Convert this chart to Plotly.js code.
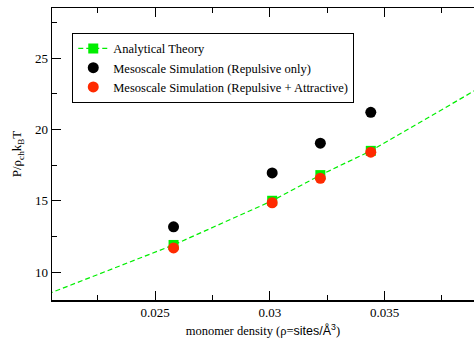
<!DOCTYPE html>
<html>
<head>
<meta charset="utf-8">
<script src="https://cdn.plot.ly/plotly-3.0.1.min.js"></script>
<style>html,body{margin:0;padding:0;background:#fff;}#chart{width:474px;height:341px;}</style>
</head>
<body>
<div id="chart"></div>
<script>
// Analytical theory curve (dashed line); end points lie just outside the axes range
const theoryX = [0.0200, 0.0258, 0.0301, 0.0322, 0.0344, 0.0395];
const theoryY = [8.26, 11.9, 15.0, 16.8, 18.5, 23.26];

// Mesoscale simulation densities
const densities = [0.0258, 0.0301, 0.0322, 0.0344];
const repulsiveOnly = [13.17, 16.95, 19.04, 21.2];
const repulsiveAttractive = [11.69, 14.86, 16.58, 18.41];

const labels = ["Analytical Theory",
  "Mesoscale Simulation (Repulsive only)",
  "Mesoscale Simulation (Repulsive + Attractive)"];

const serif = "Liberation Serif";

const traces = [
  {
    x: theoryX, y: theoryY, name: labels[0], type: "scatter", mode: "lines+markers",
    cliponaxis: true,
    line: {color: "#00ee00", width: 1.2, dash: "5px,3px"},
    marker: {symbol: "square", color: "#00ee00", size: 10}
  },
  {
    x: densities, y: repulsiveOnly, name: labels[1], type: "scatter", mode: "markers",
    marker: {symbol: "circle", color: "#000000", size: 11}
  },
  {
    x: densities, y: repulsiveAttractive, name: labels[2], type: "scatter", mode: "markers",
    marker: {symbol: "circle", color: "#ff2a00", size: 11}
  }
];

const layout = {
  width: 474, height: 341,
  margin: {l: 52, r: 0, t: 8, b: 41},
  paper_bgcolor: "#fff", plot_bgcolor: "#fff",
  font: {family: serif, size: 12, color: "#000"},
  showlegend: true,
  legend: {
    x: 0.048, y: 0.915, xanchor: "left", yanchor: "top",
    bgcolor: "#fff", bordercolor: "#000", borderwidth: 1,
    font: {family: serif, size: 12.5, color: "#000"},
    tracegroupgap: 0, itemwidth: 30
  },
  xaxis: {
    range: [0.0205, 0.0389],
    tickvals: [0.025, 0.03, 0.035],
    ticktext: ["0.025", "0.03", "0.035"],
    ticks: "inside", ticklen: 9, tickwidth: 1, tickcolor: "#000",
    minor: {dtick: 0.0025, tick0: 0, ticks: "inside", ticklen: 5, tickwidth: 1, tickcolor: "#000"},
    showline: true, linecolor: "#000", linewidth: 1.5, mirror: "ticks",
    showgrid: false, zeroline: false,
    tickfont: {family: serif, size: 13},
    title: {text: "monomer density (ρ=<span style=\"font-family:'Liberation Sans'\">sites/Å<sup>3</sup></span>)",
            font: {family: serif, size: 12.5}, standoff: 7}
  },
  yaxis: {
    range: [8.04, 28.52],
    tickvals: [10, 15, 20, 25],
    ticks: "inside", ticklen: 9, tickwidth: 1, tickcolor: "#000",
    minor: {dtick: 2.5, tick0: 0, ticks: "inside", ticklen: 5, tickwidth: 1, tickcolor: "#000"},
    showline: true, linecolor: "#000", linewidth: 1.5, mirror: false,
    showgrid: false, zeroline: false,
    tickfont: {family: serif, size: 13},
    title: {text: "P/ρ<sub>ch</sub>k<sub>B</sub>T", font: {family: serif, size: 13}, standoff: 10}
  }
};

Plotly.newPlot("chart", traces, layout, {displayModeBar: false, staticPlot: true});
</script>
</body>
</html>
